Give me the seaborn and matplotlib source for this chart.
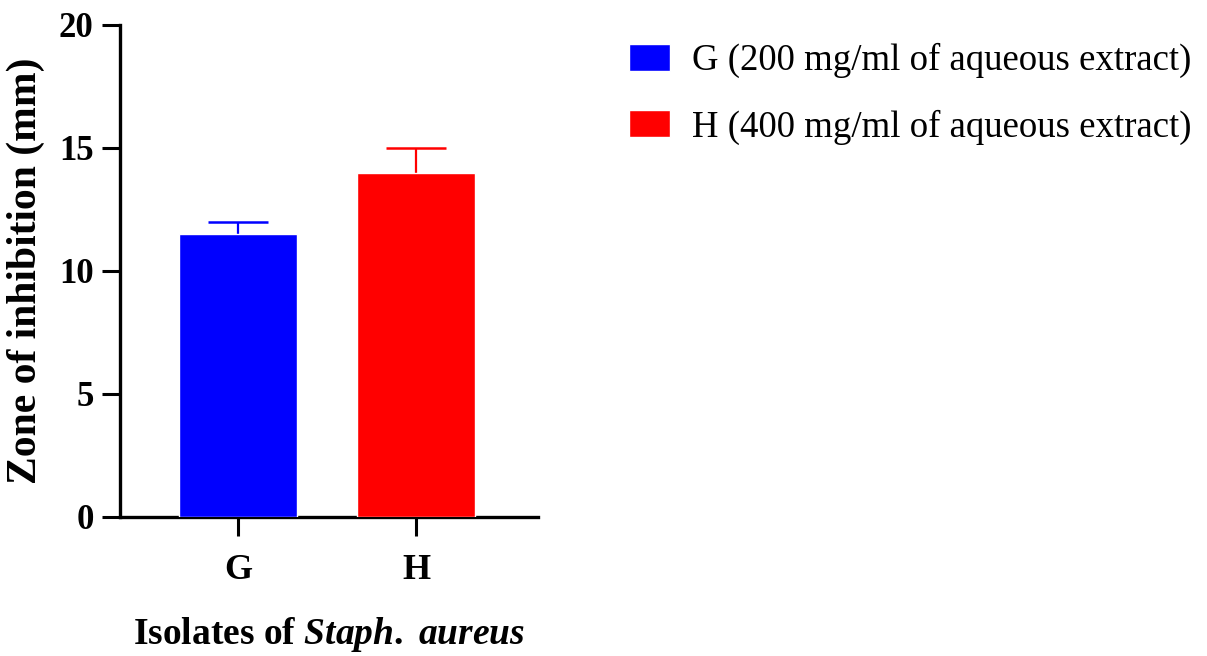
import matplotlib
matplotlib.use("Agg")
import matplotlib.pyplot as plt
import seaborn as sns
import pandas as pd

# values
isolates = ["G", "H"]
zone_mm = [11.5, 14.0]
sem_up = [0.5, 1.0]
legend_labels = ["G (200 mg/ml of aqueous extract)", "H (400 mg/ml of aqueous extract)"]
colors = ["#0000ff", "#ff0000"]
yticks = [0, 5, 10, 15, 20]

sns.set_style("ticks")
plt.rcParams["font.family"] = ["Liberation Serif", "DejaVu Serif"]
plt.rcParams["mathtext.fontset"] = "custom"
plt.rcParams["mathtext.it"] = "Liberation Serif:italic:bold"
plt.rcParams["mathtext.rm"] = "Liberation Serif:bold"
plt.rcParams["text.color"] = "black"
plt.rcParams["axes.labelcolor"] = "black"
plt.rcParams["xtick.color"] = "black"
plt.rcParams["ytick.color"] = "black"
plt.rcParams["axes.edgecolor"] = "black"

df = pd.DataFrame({"isolate": isolates, "zone": zone_mm})

fig = plt.figure(figsize=(12.07, 6.56), dpi=100)
ax = fig.add_axes([0.0994, 0.212, 0.3463, 0.750])

sns.barplot(data=df, x="isolate", y="zone", hue="isolate", palette=colors,
            width=0.663, saturation=1, legend=False, ax=ax, zorder=3)

for i, (v, e, c) in enumerate(zip(zone_mm, sem_up, colors)):
    eb = ax.errorbar(i, v, yerr=[[0], [e]], color=c, capsize=21.5, elinewidth=1.6,
                     capthick=1.8, zorder=2)
    eb[1][0].set_visible(False)  # only the upper cap

ax.set_xlim(-0.663, 1.685)
ax.set_ylim(0, 20)
ax.set_yticks(yticks)
ax.tick_params(axis="y", length=13, width=2.2, labelsize=25, pad=6)
ax.tick_params(axis="x", length=14, width=2.2, labelsize=26, pad=13)
for lab in ax.get_xticklabels() + ax.get_yticklabels():
    lab.set_fontweight("bold")
for s in ["left", "bottom"]:
    ax.spines[s].set_linewidth(2.4)
sns.despine(ax=ax)

ax.set_ylabel("Zone of inhibition (mm)", fontsize=30, fontweight="bold", labelpad=10)
ax.set_xlabel(r"Isolates of $Staph.$ $aureus$", fontsize=27, fontweight="bold", labelpad=20)

handles = ax.patches[:2]
fig.legend(handles, legend_labels, loc="upper left", bbox_to_anchor=(0.509, 0.957),
           frameon=False, fontsize=26.5, handlelength=1.1, handleheight=0.75,
           handletextpad=0.6, labelspacing=0.85, borderaxespad=0)

fig.savefig("out.png", dpi=100)
